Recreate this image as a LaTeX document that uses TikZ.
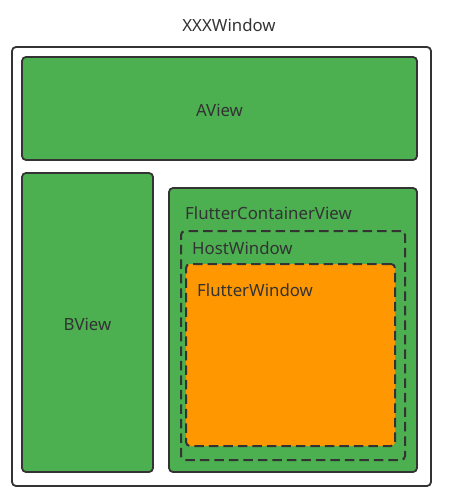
\documentclass[tikz,border=0pt]{standalone}
\usepackage{fontspec}
\setmainfont{Noto Sans}
\usetikzlibrary{positioning}
\definecolor{viewgreen}{HTML}{4CAF50}
\definecolor{winorange}{HTML}{FF9800}
\definecolor{edgegray}{HTML}{333333}

\begin{document}
\begin{tikzpicture}[x=1pt,y=-1pt,
  box/.style={draw=edgegray,line width=1.8pt,rounded corners=4pt,
    inner sep=0pt,outer sep=0pt,anchor=north west},
  view/.style={box,fill=viewgreen},
  hostbox/.style={box,line width=2pt,dash pattern=on 9.5pt off 5pt},
  flutterbox/.style={box,line width=2pt,fill=winorange,dash pattern=on 9.5pt off 5pt},
  lbl/.style={text=edgegray,font=\fontsize{16.8}{19}\selectfont,inner sep=0pt}]
  \useasboundingbox (0,0) rectangle (452,500);
  % outer window
  \node[box,minimum width=419pt,minimum height=439pt] (xxxwin) at (12,47) {};
  \node[lbl] (xxxlabel) at (229,25) {XXXWindow};
  % views
  \node[view,minimum width=395pt,minimum height=103pt] (aview) at (22,57) {};
  \node[lbl] at ([yshift=-2pt]aview.center) {AView};
  \node[view,minimum width=131pt,minimum height=299pt] (bview) at (22,173) {};
  \node[lbl] at ([yshift=-2pt]bview.center) {BView};
  \node[view,minimum width=248pt,minimum height=284pt] (fcview) at (169,188) {};
  \node[lbl,anchor=west] (fclabel) at ([xshift=16pt,yshift=-25pt]fcview.north west) {FlutterContainerView};
  % windows inside
  \node[hostbox,minimum width=224pt,minimum height=229pt] (hostwin) at (181,231) {};
  \node[lbl,anchor=west] (hostlabel) at ([xshift=11pt,yshift=-17pt]hostwin.north west) {HostWindow};
  \node[flutterbox,minimum width=209pt,minimum height=182pt] (flutterwin) at (186,264) {};
  \node[lbl,anchor=west] (flutterlabel) at ([xshift=11pt,yshift=-26pt]flutterwin.north west) {FlutterWindow};
\end{tikzpicture}
\end{document}
